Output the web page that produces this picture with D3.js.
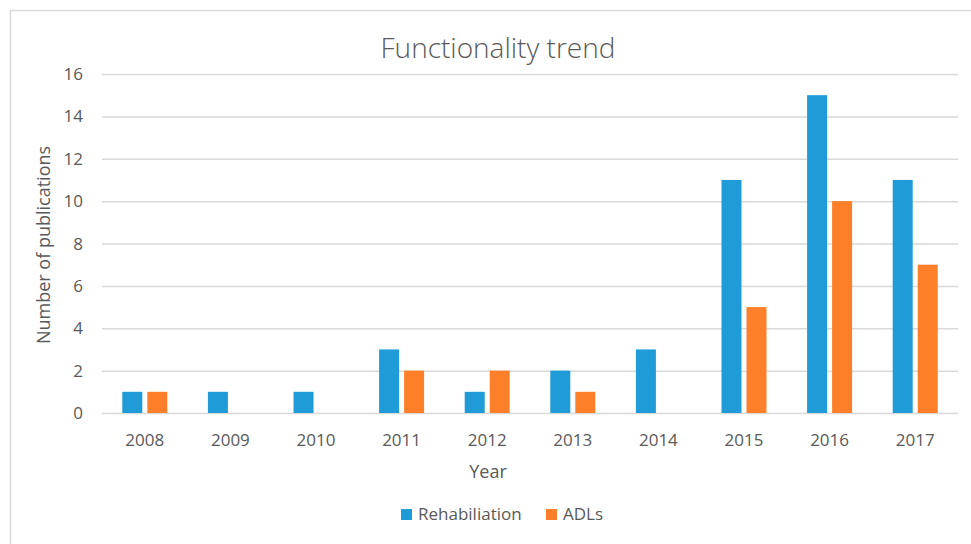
<!DOCTYPE html>
<html>
<head>
<meta charset="UTF-8">
<title>Functionality trend</title>
<script src="https://cdn.jsdelivr.net/npm/d3@7"></script>
<style>
  body { margin: 0; background: #fff; }
  text { font-family: "Open Sans", sans-serif; fill: #595959; }
</style>
</head>
<body>
<script>
var years = ["2008", "2009", "2010", "2011", "2012", "2013", "2014", "2015", "2016", "2017"];
var rehab = [1, 1, 1, 3, 1, 2, 3, 11, 15, 11];
var adls = [1, 0, 0, 2, 2, 1, 0, 5, 10, 7];
var yTicks = [0, 2, 4, 6, 8, 10, 12, 14, 16];
var seriesNames = ["Rehabiliation", "ADLs"];
var colors = ["#1f9cd8", "#fe7f2a"];

var w = 971, h = 544;
var margin = { top: 74, left: 102, right: 13, bottom: 131 };
var width = w - margin.left - margin.right;
var height = h - margin.top - margin.bottom;

var svg = d3.select("body").append("svg")
  .attr("width", w)
  .attr("height", h);

// chart frame
svg.append("rect")
  .attr("x", 10.5).attr("y", 10.5)
  .attr("width", 990).attr("height", 560)
  .attr("fill", "none")
  .attr("stroke", "#d9d9d9")
  .attr("stroke-width", 1.5);

var x = d3.scaleBand().domain(years).range([0, width]);
var y = d3.scaleLinear().domain([0, 16]).range([height, 0]);

var chart = svg.append("g")
  .attr("transform", "translate(" + margin.left + "," + margin.top + ")");

// gridlines
chart.selectAll(".grid")
  .data(yTicks)
  .enter().append("line")
  .attr("x1", 0).attr("x2", width)
  .attr("y1", function(d) { return y(d) + 0.5; })
  .attr("y2", function(d) { return y(d) + 0.5; })
  .attr("stroke", "#d9d9d9")
  .attr("stroke-width", 1.5);

// y tick labels
chart.selectAll(".ylab")
  .data(yTicks)
  .enter().append("text")
  .attr("x", -19)
  .attr("y", function(d) { return y(d); })
  .attr("dy", "0.36em")
  .attr("text-anchor", "end")
  .style("font-size", "17px")
  .text(function(d) { return d; });

// x tick labels
chart.selectAll(".xlab")
  .data(years)
  .enter().append("text")
  .attr("x", function(d) { return x(d) + x.bandwidth() / 2; })
  .attr("y", height + 33)
  .attr("text-anchor", "middle")
  .style("font-size", "17px")
  .text(function(d) { return d; });

var barW = 20, gap = 5;
var series = [rehab, adls];
series.forEach(function(vals, s) {
  chart.selectAll(".bar" + s)
    .data(vals)
    .enter().append("rect")
    .attr("x", function(d, i) {
      var c = x(years[i]) + x.bandwidth() / 2;
      return s === 0 ? c - gap / 2 - barW : c + gap / 2;
    })
    .attr("y", function(d) { return y(d); })
    .attr("width", barW)
    .attr("height", function(d) { return y(0) - y(d); })
    .attr("fill", colors[s]);
});

// title
svg.append("text")
  .attr("x", 498).attr("y", 58)
  .attr("text-anchor", "middle")
  .style("font-size", "28px")
  .style("font-weight", 300)
  .text("Functionality trend");

// axis titles
svg.append("text")
  .attr("transform", "translate(50,245) rotate(-90)")
  .attr("text-anchor", "middle")
  .style("font-size", "18px")
  .text("Number of publications");

svg.append("text")
  .attr("x", 488).attr("y", 478)
  .attr("text-anchor", "middle")
  .style("font-size", "18px")
  .text("Year");

// legend
var legendX = [401, 546];
seriesNames.forEach(function(name, i) {
  svg.append("rect")
    .attr("x", legendX[i]).attr("y", 509)
    .attr("width", 11).attr("height", 11)
    .attr("fill", colors[i]);
  svg.append("text")
    .attr("x", legendX[i] + 17).attr("y", 520)
    .style("font-size", "17px")
    .text(name);
});
</script>
</body>
</html>
